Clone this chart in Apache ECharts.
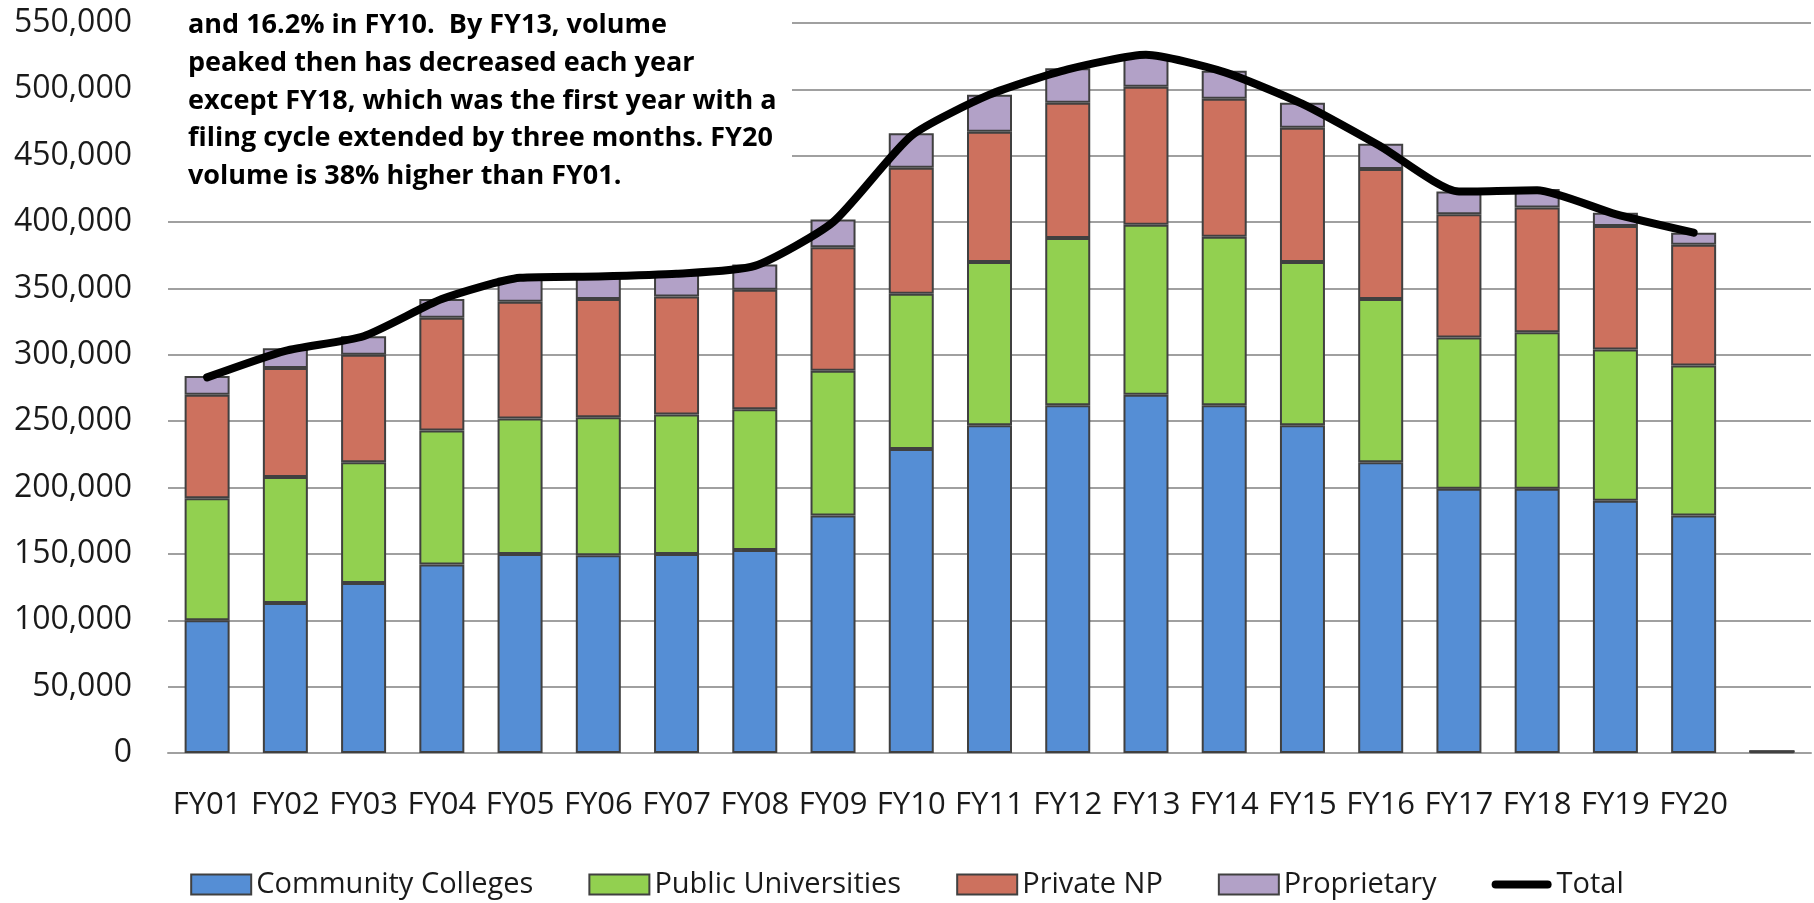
<!DOCTYPE html>
<html>
<head>
<meta charset="utf-8">
<title>Filing volume by sector, FY01-FY20</title>
<script src="https://cdn.jsdelivr.net/npm/echarts@6/dist/echarts.min.js"></script>
<style>
  html, body { margin: 0; padding: 0; background: #fff; }
  #chart { width: 1814px; height: 903px; }
</style>
</head>
<body>
<div id="chart"></div>
<script>
// last slot is the empty category at the right end of the axis
const years = ['FY01', 'FY02', 'FY03', 'FY04', 'FY05', 'FY06', 'FY07', 'FY08', 'FY09', 'FY10',
  'FY11', 'FY12', 'FY13', 'FY14', 'FY15', 'FY16', 'FY17', 'FY18', 'FY19', 'FY20', '']

const communityColleges = [100000, 113000, 128000, 142000, 150000, 149000, 150000, 153000, 179000, 229000,
  247000, 262000, 270000, 262000, 247000, 219000, 199000, 199000, 190000, 179000, 1200]
const publicUniversities = [92000, 95000, 91000, 101000, 102000, 104000, 105000, 106000, 109000, 117000,
  123000, 126000, 128000, 127000, 123000, 123000, 114000, 118000, 114000, 113000, 0]
const privateNP = [78000, 82000, 81000, 85000, 88000, 89000, 89000, 90000, 93000, 95000,
  98000, 102000, 104000, 104000, 101000, 98000, 93000, 94000, 93000, 91000, 0]
const proprietary = [14000, 15000, 14000, 14000, 18000, 17000, 17000, 19000, 21000, 26000,
  28000, 26000, 24000, 21000, 19000, 19000, 17000, 14000, 10000, 9000, 0]
const total = [283000, 303000, 314000, 342000, 358000, 359000, 361000, 367000, 400000, 465000,
  496000, 515000, 526000, 513000, 489000, 457000, 423000, 424000, 406000, 392000, null]

const noteLines = [
  'and 16.2% in FY10.  By FY13, volume',
  'peaked then has decreased each year',
  'except FY18, which was the first year with a',
  'filing cycle extended by three months. FY20',
  'volume is 38% higher than FY01.'
]

const font = "'Open Sans', 'Noto Sans', sans-serif"
const barBorder = { borderColor: '#404040', borderWidth: 2 }

const chart = echarts.init(document.getElementById('chart'))

const barSeries = (name, data, color) => ({
  name,
  type: 'bar',
  stack: 'sector',
  barWidth: 45,
  data,
  itemStyle: { color, ...barBorder }
})

// one text element per line so the line spacing is exact
const noteText = noteLines.map((line, i) => ({
  type: 'text',
  z: 51,
  x: 188,
  y: 12 + i * 37.7,
  style: {
    text: line,
    fontFamily: font,
    fontWeight: 'bold',
    fontSize: 27,
    fill: '#000',
    verticalAlign: 'top'
  }
}))

const option = {
  animation: false,
  textStyle: { fontFamily: font },
  grid: {
    left: 168,
    right: 3,
    top: 23,
    bottom: 150
  },
  legend: {
    left: 'center',
    top: 865,
    icon: 'rect',
    itemWidth: 60,
    itemHeight: 20,
    itemGap: 55,
    textStyle: { fontSize: 29, color: '#1a1a1a', fontFamily: font },
    data: [
      'Community Colleges',
      'Public Universities',
      'Private NP',
      'Proprietary',
      { name: 'Total', icon: 'path://M4,0 L56,0 A4,4 0 0 1 56,8 L4,8 A4,4 0 0 1 4,0 Z' }
    ]
  },
  xAxis: {
    type: 'category',
    data: years,
    axisLine: { lineStyle: { color: '#a0a0a0', width: 2 } },
    axisTick: { show: false },
    axisLabel: { interval: 0, fontSize: 31, color: '#1a1a1a', margin: 37, fontFamily: font }
  },
  yAxis: {
    type: 'value',
    min: 0,
    max: 550000,
    interval: 50000,
    axisLine: { show: false },
    axisTick: { show: false },
    splitLine: { lineStyle: { color: '#a0a0a0', width: 2 } },
    axisLabel: {
      fontSize: 32,
      color: '#1a1a1a',
      margin: 36,
      fontFamily: font,
      formatter: v => v.toLocaleString('en-US')
    }
  },
  series: [
    barSeries('Community Colleges', communityColleges, '#558ed5'),
    barSeries('Public Universities', publicUniversities, '#92d050'),
    barSeries('Private NP', privateNP, '#cd715e'),
    barSeries('Proprietary', proprietary, '#b2a1c7'),
    {
      name: 'Total',
      type: 'line',
      data: total,
      smooth: 0.2,
      symbol: 'none',
      z: 5,
      lineStyle: { color: '#000', width: 8, cap: 'round', join: 'round' },
      itemStyle: { color: '#000' }
    }
  ],
  // white note box sitting over the top-left of the plot
  graphic: [
    {
      type: 'rect',
      z: 50,
      shape: { x: 150, y: 0, width: 642, height: 205 },
      style: { fill: '#fff' }
    },
    ...noteText
  ]
}

chart.setOption(option)
</script>
</body>
</html>
